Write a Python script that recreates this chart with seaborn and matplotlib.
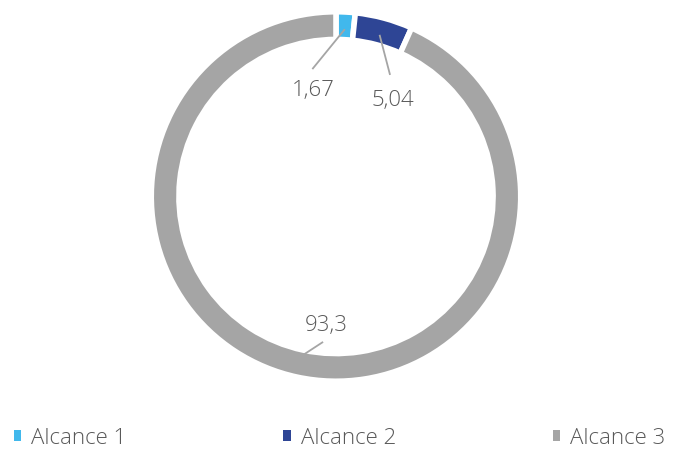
import numpy as np
import matplotlib
matplotlib.use("Agg")
import matplotlib.pyplot as plt
import seaborn as sns

categories = ["Alcance 1", "Alcance 2", "Alcance 3"]
values = [1.67, 5.04, 93.3]
value_labels = ["1,67", "5,04", "93,3"]
colors = ["#41B8EC", "#2E4595", "#A5A5A5"]

sns.set_theme(style="white")
plt.rcParams["font.family"] = ["Open Sans", "DejaVu Sans"]

W, H = 673, 453
fig = plt.figure(figsize=(W / 100, H / 100), dpi=100)
cx, cy, R = 336, 196.5, 182
ax = fig.add_axes([(cx - R) / W, (H - cy - R) / H, 2 * R / W, 2 * R / H])

wedges, _ = ax.pie(values, colors=colors, startangle=90, counterclock=False,
                   radius=1.015, wedgeprops=dict(width=0.152, edgecolor="white", linewidth=4))
ax.set_xlim(-1, 1)
ax.set_ylim(-1, 1)
ax.set_aspect("equal")
ax.axis("off")

# label placement: (line start radius, line end xy, text xy) in axes data units
label_pos = [((0.92), (-0.13, 0.70), (-0.125, 0.58)),
             ((0.92), (0.297, 0.668), (0.31, 0.525)),
             ((0.80), (-0.198, -0.882), (-0.055, -0.71))]

for w, lab, (r0, end, txt) in zip(wedges, value_labels, label_pos):
    ang = np.deg2rad((w.theta1 + w.theta2) / 2)
    start = (r0 * np.cos(ang), r0 * np.sin(ang))
    if lab == "93,3":
        start = (-0.071, -0.799)
    ax.plot([start[0], end[0]], [start[1], end[1]], color="#A5A5A5", lw=1.3,
            solid_capstyle="butt", zorder=5)
    ax.text(txt[0], txt[1], lab, ha="center", va="center", fontsize=16,
            color="#595959", fontweight="light")

leg = fig.legend(wedges, categories, loc="center left", bbox_to_anchor=(14 / W, 1 - 438 / H),
                 ncol=3, frameon=False, fontsize=16, handlelength=0.33, handleheight=0.33,
                 handletextpad=0.45, columnspacing=7.05, labelcolor="#595959", borderpad=0,
                 borderaxespad=0)
for t in leg.get_texts():
    t.set_fontweight("light")
for h in leg.legend_handles:
    h.set_edgecolor("none")

fig.savefig("out.png", dpi=100)
